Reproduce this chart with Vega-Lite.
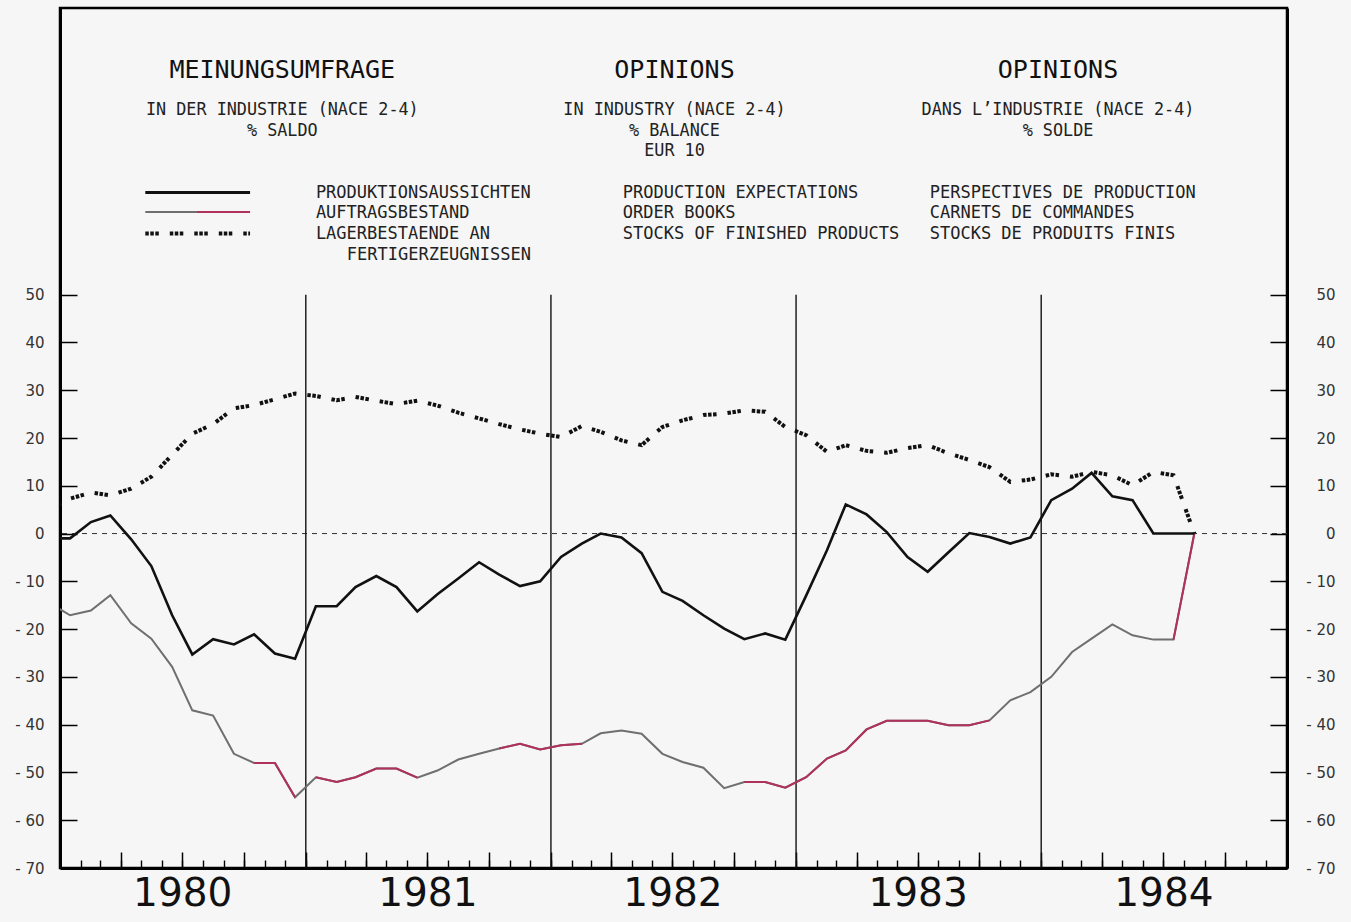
{
  "$schema": "https://vega.github.io/schema/vega-lite/v6.json",
  "width": 1227,
  "height": 860,
  "autosize": {"type": "none"},
  "padding": {"left": 60, "top": 8, "right": 64, "bottom": 54},
  "background": "#f6f6f6",
  "config": {
    "view": {"stroke": "#000", "strokeWidth": 2.5},
    "axis": {"grid": false, "domainColor": "#000", "tickColor": "#000", "labelColor": "#333", "labelFont": "DejaVu Sans"}
  },
  "datasets": {
    "survey": [
      {"date": "1979-12-16", "prod": -1.0, "order": -14.5, "stock": 5.0},
      {"date": "1980-01-16", "prod": -1.0, "order": -17.1, "stock": 7.3},
      {"date": "1980-02-16", "prod": 2.4, "order": -16.1, "stock": 8.6},
      {"date": "1980-03-16", "prod": 3.8, "order": -12.9, "stock": 8.0},
      {"date": "1980-04-16", "prod": -1.2, "order": -18.8, "stock": 9.4},
      {"date": "1980-05-16", "prod": -6.8, "order": -22.0, "stock": 11.9},
      {"date": "1980-06-16", "prod": -17.1, "order": -27.9, "stock": 16.5},
      {"date": "1980-07-16", "prod": -25.3, "order": -37.0, "stock": 20.9},
      {"date": "1980-08-16", "prod": -22.1, "order": -38.1, "stock": 22.9},
      {"date": "1980-09-16", "prod": -23.2, "order": -46.1, "stock": 26.2},
      {"date": "1980-10-16", "prod": -21.1, "order": -48.0, "stock": 26.9, "red": 1},
      {"date": "1980-11-16", "prod": -25.1, "order": -48.0, "stock": 28.1, "red": 1},
      {"date": "1980-12-16", "prod": -26.2, "order": -55.2, "stock": 29.3, "red": 1},
      {"date": "1981-01-16", "prod": -15.2, "order": -51.0, "stock": 28.8, "red": 2},
      {"date": "1981-02-16", "prod": -15.2, "order": -52.0, "stock": 27.9, "red": 2},
      {"date": "1981-03-16", "prod": -11.2, "order": -51.0, "stock": 28.6, "red": 2},
      {"date": "1981-04-16", "prod": -8.9, "order": -49.2, "stock": 27.8, "red": 2},
      {"date": "1981-05-16", "prod": -11.2, "order": -49.2, "stock": 27.1, "red": 2},
      {"date": "1981-06-16", "prod": -16.3, "order": -51.1, "stock": 27.8, "red": 2},
      {"date": "1981-07-16", "prod": -12.7, "order": -49.6, "stock": 26.8},
      {"date": "1981-08-16", "prod": -9.4, "order": -47.3, "stock": 25.3},
      {"date": "1981-09-16", "prod": -6.0, "order": -46.1, "stock": 24.1},
      {"date": "1981-10-16", "prod": -8.6, "order": -45.0, "stock": 22.9, "red": 3},
      {"date": "1981-11-16", "prod": -11.0, "order": -44.0, "stock": 21.8, "red": 3},
      {"date": "1981-12-16", "prod": -10.0, "order": -45.2, "stock": 20.9, "red": 3},
      {"date": "1982-01-16", "prod": -4.9, "order": -44.3, "stock": 20.2, "red": 3},
      {"date": "1982-02-16", "prod": -2.1, "order": -44.0, "stock": 22.5, "red": 3},
      {"date": "1982-03-16", "prod": 0.0, "order": -41.8, "stock": 21.3},
      {"date": "1982-04-16", "prod": -0.8, "order": -41.2, "stock": 19.5},
      {"date": "1982-05-16", "prod": -4.1, "order": -41.9, "stock": 18.5},
      {"date": "1982-06-16", "prod": -12.2, "order": -46.1, "stock": 22.3},
      {"date": "1982-07-16", "prod": -14.1, "order": -47.8, "stock": 23.7},
      {"date": "1982-08-16", "prod": -17.1, "order": -49.0, "stock": 24.8},
      {"date": "1982-09-16", "prod": -19.9, "order": -53.3, "stock": 25.1},
      {"date": "1982-10-16", "prod": -22.1, "order": -52.0, "stock": 25.8, "red": 4},
      {"date": "1982-11-16", "prod": -20.9, "order": -52.0, "stock": 25.5, "red": 4},
      {"date": "1982-12-16", "prod": -22.2, "order": -53.2, "stock": 22.3, "red": 4},
      {"date": "1983-01-16", "prod": -13.0, "order": -51.0, "stock": 20.6, "red": 4},
      {"date": "1983-02-16", "prod": -3.5, "order": -47.1, "stock": 17.1, "red": 4},
      {"date": "1983-03-16", "prod": 6.1, "order": -45.4, "stock": 18.5, "red": 4},
      {"date": "1983-04-16", "prod": 4.0, "order": -41.0, "stock": 17.3, "red": 4},
      {"date": "1983-05-16", "prod": 0.3, "order": -39.2, "stock": 16.9, "red": 4},
      {"date": "1983-06-16", "prod": -4.9, "order": -39.2, "stock": 17.9, "red": 4},
      {"date": "1983-07-16", "prod": -8.0, "order": -39.2, "stock": 18.5, "red": 4},
      {"date": "1983-08-16", "prod": -3.9, "order": -40.1, "stock": 16.8, "red": 4},
      {"date": "1983-09-16", "prod": 0.1, "order": -40.1, "stock": 15.4, "red": 4},
      {"date": "1983-10-16", "prod": -0.7, "order": -39.1, "stock": 13.9, "red": 4},
      {"date": "1983-11-16", "prod": -2.1, "order": -34.9, "stock": 10.8},
      {"date": "1983-12-16", "prod": -0.8, "order": -33.2, "stock": 11.3},
      {"date": "1984-01-16", "prod": 7.0, "order": -30.0, "stock": 12.4},
      {"date": "1984-02-16", "prod": 9.4, "order": -24.8, "stock": 11.9},
      {"date": "1984-03-16", "prod": 12.7, "order": -22.0, "stock": 12.9},
      {"date": "1984-04-16", "prod": 7.8, "order": -19.0, "stock": 12.2},
      {"date": "1984-05-16", "prod": 7.0, "order": -21.3, "stock": 10.1},
      {"date": "1984-06-16", "prod": 0.0, "order": -22.2, "stock": 12.9},
      {"date": "1984-07-16", "prod": 0.0, "order": -22.2, "stock": 12.2, "red": 5},
      {"date": "1984-08-16", "prod": 0.0, "order": 0.0, "stock": 0.0, "red": 5}
    ],
    "yearStarts": [
      {"date": "1981-01-01"},
      {"date": "1982-01-01"},
      {"date": "1983-01-01"},
      {"date": "1984-01-01"}
    ]
  },
  "resolve": {"axis": {"x": "independent", "y": "independent"}},
  "layer": [
    {
      "data": {"values": [{}]},
      "mark": {"type": "rule", "color": "#333", "strokeWidth": 1, "strokeDash": [5, 5]},
      "encoding": {
        "y": {"datum": 0, "type": "quantitative", "scale": {"domain": [-70, 110], "nice": false, "zero": false}, "axis": null}
      }
    },
    {
      "data": {"name": "yearStarts"},
      "mark": {"type": "rule", "color": "#111", "strokeWidth": 1.4},
      "encoding": {
        "x": {"field": "date", "type": "temporal", "scale": {"type": "utc", "domain": [{"year": 1980, "month": 1, "date": 1, "utc": true}, {"year": 1985, "month": 1, "date": 1, "utc": true}]}, "axis": null},
        "y": {"datum": 50, "type": "quantitative", "scale": {"domain": [-70, 110], "nice": false, "zero": false}, "axis": null},
        "y2": {"datum": -70}
      }
    },
    {
      "data": {"name": "survey"},
      "mark": {"type": "line", "color": "#6f6f6f", "strokeWidth": 2, "clip": true},
      "encoding": {
        "x": {"field": "date", "type": "temporal", "scale": {"type": "utc", "domain": [{"year": 1980, "month": 1, "date": 1, "utc": true}, {"year": 1985, "month": 1, "date": 1, "utc": true}]},
          "axis": {"orient": "bottom", "title": null, "tickCount": {"interval": "month", "step": 1}, "tickSize": -8, "tickWidth": 1.4, "labels": false, "domainWidth": 3}},
        "y": {"field": "order", "type": "quantitative", "scale": {"domain": [-70, 110], "nice": false, "zero": false},
          "axis": {"orient": "left", "title": null, "values": [-70, -60, -50, -40, -30, -20, -10, 0, 10, 20, 30, 40, 50], "tickSize": -17, "tickWidth": 1.5, "domainWidth": 3, "labelPadding": 33, "labelFontSize": 15, "labelExpr": "datum.value < 0 ? '- ' + (-datum.value) : datum.label"}}
      }
    },
    {
      "data": {"name": "survey"},
      "transform": [{"filter": "isValid(datum.red)"}],
      "mark": {"type": "line", "color": "#b0305e", "strokeWidth": 2, "clip": true},
      "encoding": {
        "x": {"field": "date", "type": "temporal", "scale": {"type": "utc", "domain": [{"year": 1980, "month": 1, "date": 1, "utc": true}, {"year": 1985, "month": 1, "date": 1, "utc": true}]}, "axis": null},
        "y": {"field": "order", "type": "quantitative", "scale": {"domain": [-70, 110], "nice": false, "zero": false}, "axis": null},
        "detail": {"field": "red", "type": "nominal"}
      }
    },
    {
      "data": {"name": "survey"},
      "mark": {"type": "line", "color": "#111", "strokeWidth": 2.6, "clip": true},
      "encoding": {
        "x": {"field": "date", "type": "temporal", "scale": {"type": "utc", "domain": [{"year": 1980, "month": 1, "date": 1, "utc": true}, {"year": 1985, "month": 1, "date": 1, "utc": true}]},
          "axis": {"orient": "bottom", "title": null, "tickCount": {"interval": "month", "step": 3}, "tickSize": -16, "tickWidth": 1.5, "labels": false, "domain": false}},
        "y": {"field": "prod", "type": "quantitative", "scale": {"domain": [-70, 110], "nice": false, "zero": false},
          "axis": {"orient": "right", "title": null, "values": [-70, -60, -50, -40, -30, -20, -10, 0, 10, 20, 30, 40, 50], "tickSize": -17, "tickWidth": 1.5, "domainWidth": 3, "labelPadding": 65, "labelAlign": "right", "labelFontSize": 15, "labelExpr": "datum.value < 0 ? '- ' + (-datum.value) : datum.label"}}
      }
    },
    {
      "data": {"name": "survey"},
      "mark": {"type": "line", "color": "#111", "strokeWidth": 4, "strokeDash": [3.5, 1.5, 3.5, 1.5, 3.5, 11], "clip": true},
      "encoding": {
        "x": {"field": "date", "type": "temporal", "scale": {"type": "utc", "domain": [{"year": 1980, "month": 1, "date": 1, "utc": true}, {"year": 1985, "month": 1, "date": 1, "utc": true}]},
          "axis": {"orient": "bottom", "title": null, "values": [{"year": 1980, "month": 7, "date": 1, "utc": true}, {"year": 1981, "month": 7, "date": 1, "utc": true}, {"year": 1982, "month": 7, "date": 1, "utc": true}, {"year": 1983, "month": 7, "date": 1, "utc": true}, {"year": 1984, "month": 7, "date": 1, "utc": true}],
            "ticks": false, "domain": false, "labelFontSize": 39, "labelColor": "#111", "labelPadding": 25, "labelBaseline": "middle", "labelFlush": false, "labelOverlap": false, "labelExpr": "utcFormat(datum.value, '%Y')"}},
        "y": {"field": "stock", "type": "quantitative", "scale": {"domain": [-70, 110], "nice": false, "zero": false}, "axis": null}
      }
    },
    {
      "data": {"values": [{}]},
      "mark": {"type": "text", "text": "MEINUNGSUMFRAGE", "font": "DejaVu Sans Mono", "fontSize": 25, "align": "center", "baseline": "middle", "color": "#111"},
      "encoding": {
        "x": {"datum": {"year": 1980, "month": 11, "date": 27, "utc": true}, "type": "temporal", "scale": {"type": "utc", "domain": [{"year": 1980, "month": 1, "date": 1, "utc": true}, {"year": 1985, "month": 1, "date": 1, "utc": true}]}, "axis": null},
        "y": {"datum": 97.0, "type": "quantitative", "scale": {"domain": [-70, 110], "nice": false, "zero": false}, "axis": null}
      }
    },
    {
      "data": {"values": [{}]},
      "mark": {"type": "text", "text": "OPINIONS", "font": "DejaVu Sans Mono", "fontSize": 25, "align": "center", "baseline": "middle", "color": "#111"},
      "encoding": {
        "x": {"datum": {"year": 1982, "month": 7, "date": 4, "utc": true}, "type": "temporal", "scale": {"type": "utc", "domain": [{"year": 1980, "month": 1, "date": 1, "utc": true}, {"year": 1985, "month": 1, "date": 1, "utc": true}]}, "axis": null},
        "y": {"datum": 97.0, "type": "quantitative", "scale": {"domain": [-70, 110], "nice": false, "zero": false}, "axis": null}
      }
    },
    {
      "data": {"values": [{}]},
      "mark": {"type": "text", "text": "OPINIONS", "font": "DejaVu Sans Mono", "fontSize": 25, "align": "center", "baseline": "middle", "color": "#111"},
      "encoding": {
        "x": {"datum": {"year": 1984, "month": 1, "date": 26, "utc": true}, "type": "temporal", "scale": {"type": "utc", "domain": [{"year": 1980, "month": 1, "date": 1, "utc": true}, {"year": 1985, "month": 1, "date": 1, "utc": true}]}, "axis": null},
        "y": {"datum": 97.0, "type": "quantitative", "scale": {"domain": [-70, 110], "nice": false, "zero": false}, "axis": null}
      }
    },
    {
      "data": {"values": [{}]},
      "mark": {"type": "text", "text": ["IN DER INDUSTRIE (NACE 2-4)", "% SALDO"], "font": "DejaVu Sans Mono", "fontSize": 16.8, "lineHeight": 20.5, "align": "center", "baseline": "middle", "color": "#222"},
      "encoding": {
        "x": {"datum": {"year": 1980, "month": 11, "date": 27, "utc": true}, "type": "temporal", "scale": {"type": "utc", "domain": [{"year": 1980, "month": 1, "date": 1, "utc": true}, {"year": 1985, "month": 1, "date": 1, "utc": true}]}, "axis": null},
        "y": {"datum": 88.55, "type": "quantitative", "scale": {"domain": [-70, 110], "nice": false, "zero": false}, "axis": null}
      }
    },
    {
      "data": {"values": [{}]},
      "mark": {"type": "text", "text": ["IN INDUSTRY (NACE 2-4)", "% BALANCE", "EUR 10"], "font": "DejaVu Sans Mono", "fontSize": 16.8, "lineHeight": 20.5, "align": "center", "baseline": "middle", "color": "#222"},
      "encoding": {
        "x": {"datum": {"year": 1982, "month": 7, "date": 4, "utc": true}, "type": "temporal", "scale": {"type": "utc", "domain": [{"year": 1980, "month": 1, "date": 1, "utc": true}, {"year": 1985, "month": 1, "date": 1, "utc": true}]}, "axis": null},
        "y": {"datum": 88.55, "type": "quantitative", "scale": {"domain": [-70, 110], "nice": false, "zero": false}, "axis": null}
      }
    },
    {
      "data": {"values": [{}]},
      "mark": {"type": "text", "text": ["DANS L’INDUSTRIE (NACE 2-4)", "% SOLDE"], "font": "DejaVu Sans Mono", "fontSize": 16.8, "lineHeight": 20.5, "align": "center", "baseline": "middle", "color": "#222"},
      "encoding": {
        "x": {"datum": {"year": 1984, "month": 1, "date": 26, "utc": true}, "type": "temporal", "scale": {"type": "utc", "domain": [{"year": 1980, "month": 1, "date": 1, "utc": true}, {"year": 1985, "month": 1, "date": 1, "utc": true}]}, "axis": null},
        "y": {"datum": 88.55, "type": "quantitative", "scale": {"domain": [-70, 110], "nice": false, "zero": false}, "axis": null}
      }
    },
    {
      "data": {"values": [{}]},
      "mark": {"type": "rule", "color": "#111", "strokeWidth": 3},
      "encoding": {
        "x": {"datum": {"year": 1980, "month": 5, "date": 7, "utc": true}, "type": "temporal", "scale": {"type": "utc", "domain": [{"year": 1980, "month": 1, "date": 1, "utc": true}, {"year": 1985, "month": 1, "date": 1, "utc": true}]}, "axis": null},
        "x2": {"datum": {"year": 1980, "month": 10, "date": 10, "utc": true}},
        "y": {"datum": 71.38, "type": "quantitative", "scale": {"domain": [-70, 110], "nice": false, "zero": false}, "axis": null}
      }
    },
    {
      "data": {"values": [{}]},
      "mark": {"type": "rule", "color": "#6f6f6f", "strokeWidth": 2},
      "encoding": {
        "x": {"datum": {"year": 1980, "month": 5, "date": 7, "utc": true}, "type": "temporal", "scale": {"type": "utc", "domain": [{"year": 1980, "month": 1, "date": 1, "utc": true}, {"year": 1985, "month": 1, "date": 1, "utc": true}]}, "axis": null},
        "x2": {"datum": {"year": 1980, "month": 7, "date": 23, "utc": true}},
        "y": {"datum": 67.3, "type": "quantitative", "scale": {"domain": [-70, 110], "nice": false, "zero": false}, "axis": null}
      }
    },
    {
      "data": {"values": [{}]},
      "mark": {"type": "rule", "color": "#b0305e", "strokeWidth": 2},
      "encoding": {
        "x": {"datum": {"year": 1980, "month": 7, "date": 23, "utc": true}, "type": "temporal", "scale": {"type": "utc", "domain": [{"year": 1980, "month": 1, "date": 1, "utc": true}, {"year": 1985, "month": 1, "date": 1, "utc": true}]}, "axis": null},
        "x2": {"datum": {"year": 1980, "month": 10, "date": 10, "utc": true}},
        "y": {"datum": 67.3, "type": "quantitative", "scale": {"domain": [-70, 110], "nice": false, "zero": false}, "axis": null}
      }
    },
    {
      "data": {"values": [{}]},
      "mark": {"type": "rule", "color": "#111", "strokeWidth": 4, "strokeDash": [3.5, 1.5, 3.5, 1.5, 3.5, 11]},
      "encoding": {
        "x": {"datum": {"year": 1980, "month": 5, "date": 7, "utc": true}, "type": "temporal", "scale": {"type": "utc", "domain": [{"year": 1980, "month": 1, "date": 1, "utc": true}, {"year": 1985, "month": 1, "date": 1, "utc": true}]}, "axis": null},
        "x2": {"datum": {"year": 1980, "month": 10, "date": 10, "utc": true}},
        "y": {"datum": 62.8, "type": "quantitative", "scale": {"domain": [-70, 110], "nice": false, "zero": false}, "axis": null}
      }
    },
    {
      "data": {"values": [{}]},
      "mark": {"type": "text", "text": ["PRODUKTIONSAUSSICHTEN", "AUFTRAGSBESTAND", "LAGERBESTAENDE AN"], "font": "DejaVu Sans Mono", "fontSize": 17, "lineHeight": 20.8, "align": "left", "baseline": "middle", "color": "#222"},
      "encoding": {
        "x": {"datum": {"year": 1981, "month": 1, "date": 16, "utc": true}, "type": "temporal", "scale": {"type": "utc", "domain": [{"year": 1980, "month": 1, "date": 1, "utc": true}, {"year": 1985, "month": 1, "date": 1, "utc": true}]}, "axis": null},
        "y": {"datum": 71.38, "type": "quantitative", "scale": {"domain": [-70, 110], "nice": false, "zero": false}, "axis": null}
      }
    },
    {
      "data": {"values": [{}]},
      "mark": {"type": "text", "text": "FERTIGERZEUGNISSEN", "font": "DejaVu Sans Mono", "fontSize": 17, "align": "left", "baseline": "middle", "color": "#222"},
      "encoding": {
        "x": {"datum": {"year": 1981, "month": 3, "date": 3, "utc": true}, "type": "temporal", "scale": {"type": "utc", "domain": [{"year": 1980, "month": 1, "date": 1, "utc": true}, {"year": 1985, "month": 1, "date": 1, "utc": true}]}, "axis": null},
        "y": {"datum": 58.3, "type": "quantitative", "scale": {"domain": [-70, 110], "nice": false, "zero": false}, "axis": null}
      }
    },
    {
      "data": {"values": [{}]},
      "mark": {"type": "text", "text": ["PRODUCTION EXPECTATIONS", "ORDER BOOKS", "STOCKS OF FINISHED PRODUCTS"], "font": "DejaVu Sans Mono", "fontSize": 17, "lineHeight": 20.8, "align": "left", "baseline": "middle", "color": "#222"},
      "encoding": {
        "x": {"datum": {"year": 1982, "month": 4, "date": 18, "utc": true}, "type": "temporal", "scale": {"type": "utc", "domain": [{"year": 1980, "month": 1, "date": 1, "utc": true}, {"year": 1985, "month": 1, "date": 1, "utc": true}]}, "axis": null},
        "y": {"datum": 71.38, "type": "quantitative", "scale": {"domain": [-70, 110], "nice": false, "zero": false}, "axis": null}
      }
    },
    {
      "data": {"values": [{}]},
      "mark": {"type": "text", "text": ["PERSPECTIVES DE PRODUCTION", "CARNETS DE COMMANDES", "STOCKS DE PRODUITS FINIS"], "font": "DejaVu Sans Mono", "fontSize": 17, "lineHeight": 20.8, "align": "left", "baseline": "middle", "color": "#222"},
      "encoding": {
        "x": {"datum": {"year": 1983, "month": 7, "date": 19, "utc": true}, "type": "temporal", "scale": {"type": "utc", "domain": [{"year": 1980, "month": 1, "date": 1, "utc": true}, {"year": 1985, "month": 1, "date": 1, "utc": true}]}, "axis": null},
        "y": {"datum": 71.38, "type": "quantitative", "scale": {"domain": [-70, 110], "nice": false, "zero": false}, "axis": null}
      }
    }
  ]
}
